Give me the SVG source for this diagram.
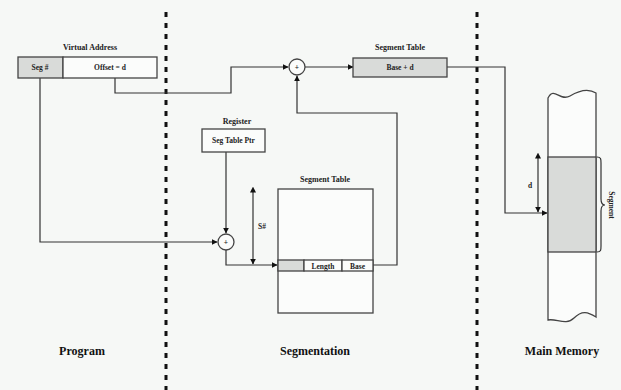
<svg xmlns="http://www.w3.org/2000/svg" width="621" height="390" viewBox="0 0 621 390">
<style>
.ln{fill:none;stroke:#333;stroke-width:1.2}
.box{fill:#fbfcfb;stroke:#444;stroke-width:1.3}
.grey{fill:#d9dbd9;stroke:#444;stroke-width:1.3}
.t{font-family:"Liberation Serif",serif;font-weight:bold;font-size:8px;fill:#222;text-anchor:middle}
.c{font-family:"Liberation Serif",serif;font-weight:bold;font-size:7.5px;fill:#222;text-anchor:middle}
.lbl{font-family:"Liberation Serif",serif;font-weight:bold;font-size:12px;fill:#111;text-anchor:middle}
.dash{stroke:#111;stroke-width:3;stroke-dasharray:5,6}
</style>
<defs>
<marker id="ah" viewBox="0 0 10 10" refX="9" refY="5" markerWidth="6" markerHeight="6" orient="auto" markerUnits="userSpaceOnUse">
<path d="M0,0 L10,5 L0,10 z" fill="#111"/>
</marker>
<marker id="as" viewBox="0 0 10 10" refX="1" refY="5" markerWidth="6" markerHeight="6" orient="auto-start-reverse" markerUnits="userSpaceOnUse">
<path d="M0,0 L10,5 L0,10 z" fill="#111"/>
</marker>
</defs>
<rect width="621" height="390" fill="#f6f8f6"/>
<g id="dividers">
<line class="dash" x1="166" y1="12" x2="166" y2="390"/>
<line class="dash" x1="477" y1="12" x2="477" y2="390"/>
</g>
<g id="connectors">
<polyline class="ln" points="115,78 115,93 231,93 231,67 288,67" marker-end="url(#ah)"/>
<line class="ln" x1="305" y1="67" x2="353" y2="67" marker-end="url(#ah)"/>
<polyline class="ln" points="447,67 505,67 505,213 547,213" marker-end="url(#ah)"/>
<polyline class="ln" points="40,78 40,242 217,242" marker-end="url(#ah)"/>
<line class="ln" x1="226" y1="152" x2="226" y2="233" marker-end="url(#ah)"/>
<polyline class="ln" points="226,250 226,265 277,265" marker-end="url(#ah)"/>
<polyline class="ln" points="372,265 397,265 397,113 297,113 297,76" marker-end="url(#ah)"/>
<line class="ln" x1="253" y1="192" x2="253" y2="264" marker-start="url(#as)" marker-end="url(#ah)"/>
<line class="ln" x1="538" y1="158" x2="538" y2="212" marker-start="url(#as)" marker-end="url(#ah)"/>
</g>
<g id="virtual-address">
<text class="t" x="90" y="50">Virtual Address</text>
<rect class="grey" x="18" y="57" width="45" height="21"/>
<rect class="box" x="63" y="57" width="94" height="21"/>
<text class="c" x="40" y="70">Seg #</text>
<text class="c" x="110" y="70">Offset = d</text>
</g>
<g id="adder-top">
<circle class="box" cx="297" cy="67" r="8"/>
<text class="c" x="297" y="70">+</text>
</g>
<g id="segment-table-top">
<text class="t" x="400" y="50">Segment Table</text>
<rect class="grey" x="353" y="58" width="94" height="19"/>
<text class="c" x="400" y="70">Base + d</text>
</g>
<g id="register">
<text class="t" x="237" y="124">Register</text>
<rect class="box" x="202" y="129" width="63" height="23"/>
<text class="c" x="233.5" y="143">Seg Table Ptr</text>
</g>
<g id="adder-bottom">
<circle class="box" cx="226" cy="242" r="8"/>
<text class="c" x="226" y="245">+</text>
</g>
<g id="segment-table">
<text class="t" x="325" y="182">Segment Table</text>
<rect class="box" x="278" y="189" width="95" height="124"/>
<rect class="grey" x="278" y="260" width="26" height="11"/>
<rect class="box" x="304" y="260" width="38" height="11"/>
<rect class="box" x="342" y="260" width="31" height="11"/>
<text class="c" x="323" y="268.5">Length</text>
<text class="c" x="357.5" y="268.5">Base</text>
<text class="c" x="262" y="229">S#</text>
</g>
<g id="main-memory">
<path class="box" d="M548,320 L548,98 C554,86 560,102 570,96 C580,90 588,88 596,93 L596,317 C588,312 582,310 574,318 C566,326 556,318 548,320 Z"/>
<rect class="grey" x="548" y="157" width="48" height="95"/>
<path class="ln" d="M597,157 C601,157 601,159 601,163 L601,199 C601,203 602,205 605,205 C602,205 601,207 601,211 L601,246 C601,250 601,252 597,252"/>
<text class="c" transform="translate(611,205) rotate(90)" y="2.5">Segment</text>
<text class="c" x="530" y="188">d</text>
</g>
<g id="labels">
<text class="lbl" x="82" y="355">Program</text>
<text class="lbl" x="315" y="355">Segmentation</text>
<text class="lbl" x="562" y="355">Main Memory</text>
</g>
</svg>
